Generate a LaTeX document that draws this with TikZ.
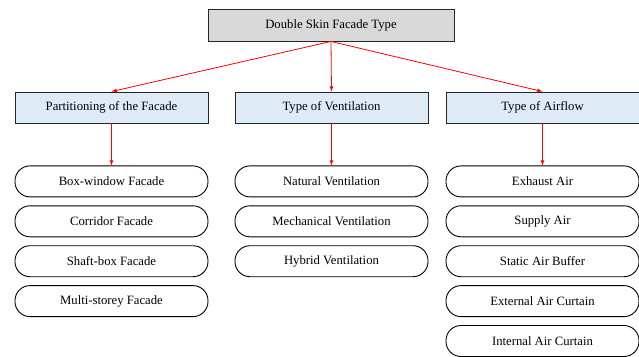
\documentclass[tikz,border=0pt]{standalone}
\usepackage{fontspec}
\setmainfont{Liberation Serif}
\usetikzlibrary{positioning}
\usetikzlibrary{arrows}
\definecolor{catblue}{RGB}{222, 234, 246}
\definecolor{topgray}{RGB}{217, 217, 217}

\begin{document}
\begin{tikzpicture}[
    x=1pt, y=-1pt,
    node distance=8pt,
    >=latex,
    % node styles
    topbox/.style = {
      draw=black!85,
      line width=0.9pt,
      fill=topgray,
      minimum width=246pt,
      minimum height=32pt,
      font=\fontsize{12.7}{15}\selectfont
    },
    catbox/.style = {
      draw=black!85,
      line width=0.9pt,
      fill=catblue,
      minimum width=193pt,
      minimum height=31pt,
      font=\fontsize{12.7}{15}\selectfont
    },
    leaf/.style = {
      draw=black,
      line width=0.9pt,
      fill=white,
      rounded corners=15pt,
      minimum width=193pt,
      minimum height=31pt,
      font=\fontsize{12.7}{15}\selectfont
    },
    % arrow styles
    arr/.style = {->, line width=0.8pt, draw=red}
  ]
  \useasboundingbox (0,0) rectangle (639,356);

  % --- Nodes
  \node[topbox] (dsf) at (331,25) {Double Skin Facade Type};

  \node[catbox] (part) at (111.5,107.5) {Partitioning of the Facade};
  \node[catbox] (vent) at (331.5,107.5) {Type of Ventilation};
  \node[catbox] (flow) at (542.5,107.5) {Type of Airflow};

  \node[leaf, below=42pt of part] (boxwin) {Box-window Facade};
  \node[leaf, below=of boxwin] (corr) {Corridor Facade};
  \node[leaf, below=of corr] (shaft) {Shaft-box Facade};
  \node[leaf, below=of shaft] (multi) {Multi-storey Facade};

  \node[leaf, below=42pt of vent] (natv) {Natural Ventilation};
  \node[leaf, below=of natv] (mechv) {Mechanical Ventilation};
  \node[leaf, below=of mechv] (hybv) {Hybrid Ventilation};

  \node[leaf, below=42pt of flow] (exh) {Exhaust Air};
  \node[leaf, below=of exh] (supp) {Supply Air};
  \node[leaf, below=of supp] (stat) {Static Air Buffer};
  \node[leaf, below=of stat] (extc) {External Air Curtain};
  \node[leaf, below=of extc] (intc) {Internal Air Curtain};

  % --- Arrows
  \draw[arr] (dsf.south) -- (part.north);
  \draw[arr] (dsf.south) -- (vent.north);
  \draw[arr] (dsf.south) -- (flow.north);
  \draw[arr] (part) -- (boxwin);
  \draw[arr] (vent) -- (natv);
  \draw[arr] (flow) -- (exh);

\end{tikzpicture}
\end{document}
